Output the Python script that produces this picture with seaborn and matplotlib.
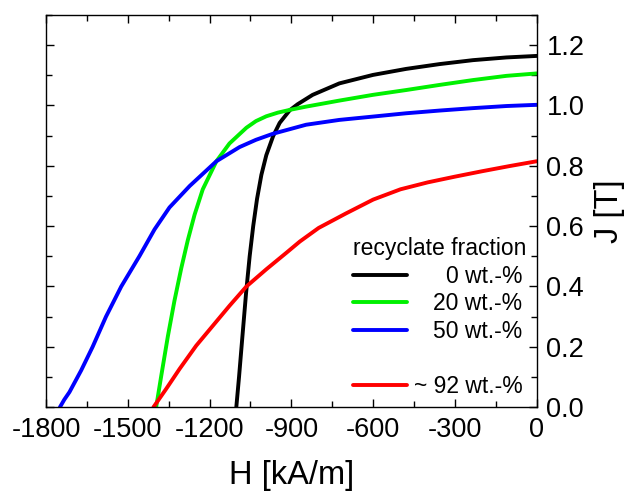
import matplotlib
matplotlib.use("Agg")
import matplotlib.pyplot as plt
import seaborn as sns
import pandas as pd
from matplotlib.lines import Line2D
from matplotlib.ticker import MultipleLocator, FormatStrFormatter

# ---- data ----
labels = ["0 wt.-%", "20 wt.-%", "50 wt.-%", "~ 92 wt.-%"]
colors = ["#000000", "#00f000", "#0000ff", "#ff0000"]

h_0 = [-1102, -1092, -1080, -1066, -1053, -1040, -1026, -1010, -992, -967, -943,
       -906, -877, -822, -724, -601, -479, -356, -234, -111, 0]
j_0 = [0.0, 0.1, 0.23, 0.38, 0.5, 0.6, 0.69, 0.77, 0.835, 0.898, 0.942,
       0.984, 1.004, 1.035, 1.073, 1.101, 1.121, 1.137, 1.150, 1.159, 1.164]

h_20 = [-1396, -1378, -1353, -1329, -1304, -1280, -1255, -1225, -1175, -1127, -1065,
        -1030, -992, -950, -907, -846, -724, -601, -479, -356, -234, -111, 0]
j_20 = [0.0, 0.1, 0.235, 0.352, 0.46, 0.553, 0.638, 0.722, 0.815, 0.874, 0.926,
        0.948, 0.964, 0.976, 0.985, 0.996, 1.016, 1.035, 1.051, 1.068, 1.084, 1.098, 1.106]

h_50 = [-1749, -1733, -1714, -1671, -1629, -1580, -1524, -1457, -1402, -1347, -1273,
        -1175, -1090, -1030, -968, -846, -724, -601, -479, -356, -234, -111, 0]
j_50 = [0.0, 0.025, 0.05, 0.122, 0.2, 0.3, 0.4, 0.501, 0.589, 0.662, 0.733,
        0.815, 0.862, 0.886, 0.906, 0.936, 0.952, 0.963, 0.974, 0.983, 0.991, 0.998, 1.002]

h_92 = [-1406, -1359, -1310, -1249, -1188, -1127, -1065, -992, -918, -869, -800,
        -700, -600, -500, -400, -300, -200, -100, 0]
j_92 = [0.0, 0.061, 0.127, 0.204, 0.27, 0.336, 0.4, 0.457, 0.512, 0.549, 0.594,
        0.642, 0.688, 0.722, 0.745, 0.764, 0.782, 0.799, 0.815]

x_ticks = [-1800, -1500, -1200, -900, -600, -300, 0]
y_ticks = [0.0, 0.2, 0.4, 0.6, 0.8, 1.0, 1.2]

# ---- long table ----
frames = []
for lab, h, j in zip(labels, [h_0, h_20, h_50, h_92], [j_0, j_20, j_50, j_92]):
    frames.append(pd.DataFrame({"H": h, "J": j, "fraction": lab}))
df = pd.concat(frames, ignore_index=True)

sns.set_style("ticks")
plt.rcParams["font.family"] = ["Liberation Sans", "DejaVu Sans"]
plt.rcParams["axes.unicode_minus"] = False
plt.rcParams["text.color"] = "black"
plt.rcParams["axes.labelcolor"] = "black"
plt.rcParams["xtick.color"] = "black"
plt.rcParams["ytick.color"] = "black"
plt.rcParams["axes.edgecolor"] = "black"

fig, ax = plt.subplots(figsize=(6.3, 4.96), dpi=100)
fig.subplots_adjust(left=0.073, right=0.852, top=0.970, bottom=0.179)

sns.lineplot(data=df, x="H", y="J", hue="fraction", hue_order=labels,
             palette=dict(zip(labels, colors)), sort=False, estimator=None,
             legend=False, lw=2.8, ax=ax)
for ln in ax.get_lines():
    ln.set_solid_joinstyle("round")
    ln.set_solid_capstyle("round")

ax.set_xlim(-1800, 0)
ax.set_ylim(0, 1.3)
ax.set_xticks(x_ticks)
ax.set_yticks(y_ticks)
ax.xaxis.set_minor_locator(MultipleLocator(150))
ax.yaxis.set_minor_locator(MultipleLocator(0.1))
ax.yaxis.set_major_formatter(FormatStrFormatter("%.1f"))

ax.tick_params(which="both", direction="in", top=True, bottom=True, left=True,
               right=True, labelleft=False, labelright=True, width=1.0,
               color="black", labelcolor="black", labelsize=19.5)
ax.tick_params(which="major", length=6, pad=7)
ax.tick_params(which="minor", length=4)
for sp in ax.spines.values():
    sp.set_linewidth(1.0)
    sp.set_color("black")

ax.set_xlabel("H [kA/m]", fontsize=23.5, labelpad=12, color="black")
ax.yaxis.set_label_position("right")
ax.set_ylabel("J [T]", fontsize=23.5, labelpad=7, color="black")

# ---- legend ----
fs = 16.5
tpad = 0.3
handles = [Line2D([0], [0], color=c, lw=2.8) for c in colors]
leg_handles = handles[:3] + [Line2D([0], [0], color="none")] + handles[3:]
leg_labels = labels[:3] + [" "] + labels[3:]
leg = ax.legend(leg_handles, leg_labels, title="recyclate fraction",
                loc="upper left", bbox_to_anchor=(353 / 630, 1 - 237 / 496),
                bbox_transform=fig.transFigure, frameon=False, fontsize=fs,
                title_fontsize=fs, borderpad=0, borderaxespad=0,
                handlelength=2.35, handletextpad=tpad, labelspacing=0.2,
                alignment="left")

# right-align the entry texts
fig.canvas.draw()
renderer = fig.canvas.get_renderer()
px2pt = 72.0 / fig.dpi
base_sep = tpad * fs
texts = leg.get_texts()
widths = [t.get_window_extent(renderer).width for t in texts]
maxw = max(widths)
items = []
for col in leg._legend_handle_box.get_children():
    items.extend(col.get_children())
for item, w, lab in zip(items, widths, leg_labels):
    if lab.strip():
        item.sep = base_sep + (maxw - w) * px2pt

fig.savefig("out.png", dpi=100)
